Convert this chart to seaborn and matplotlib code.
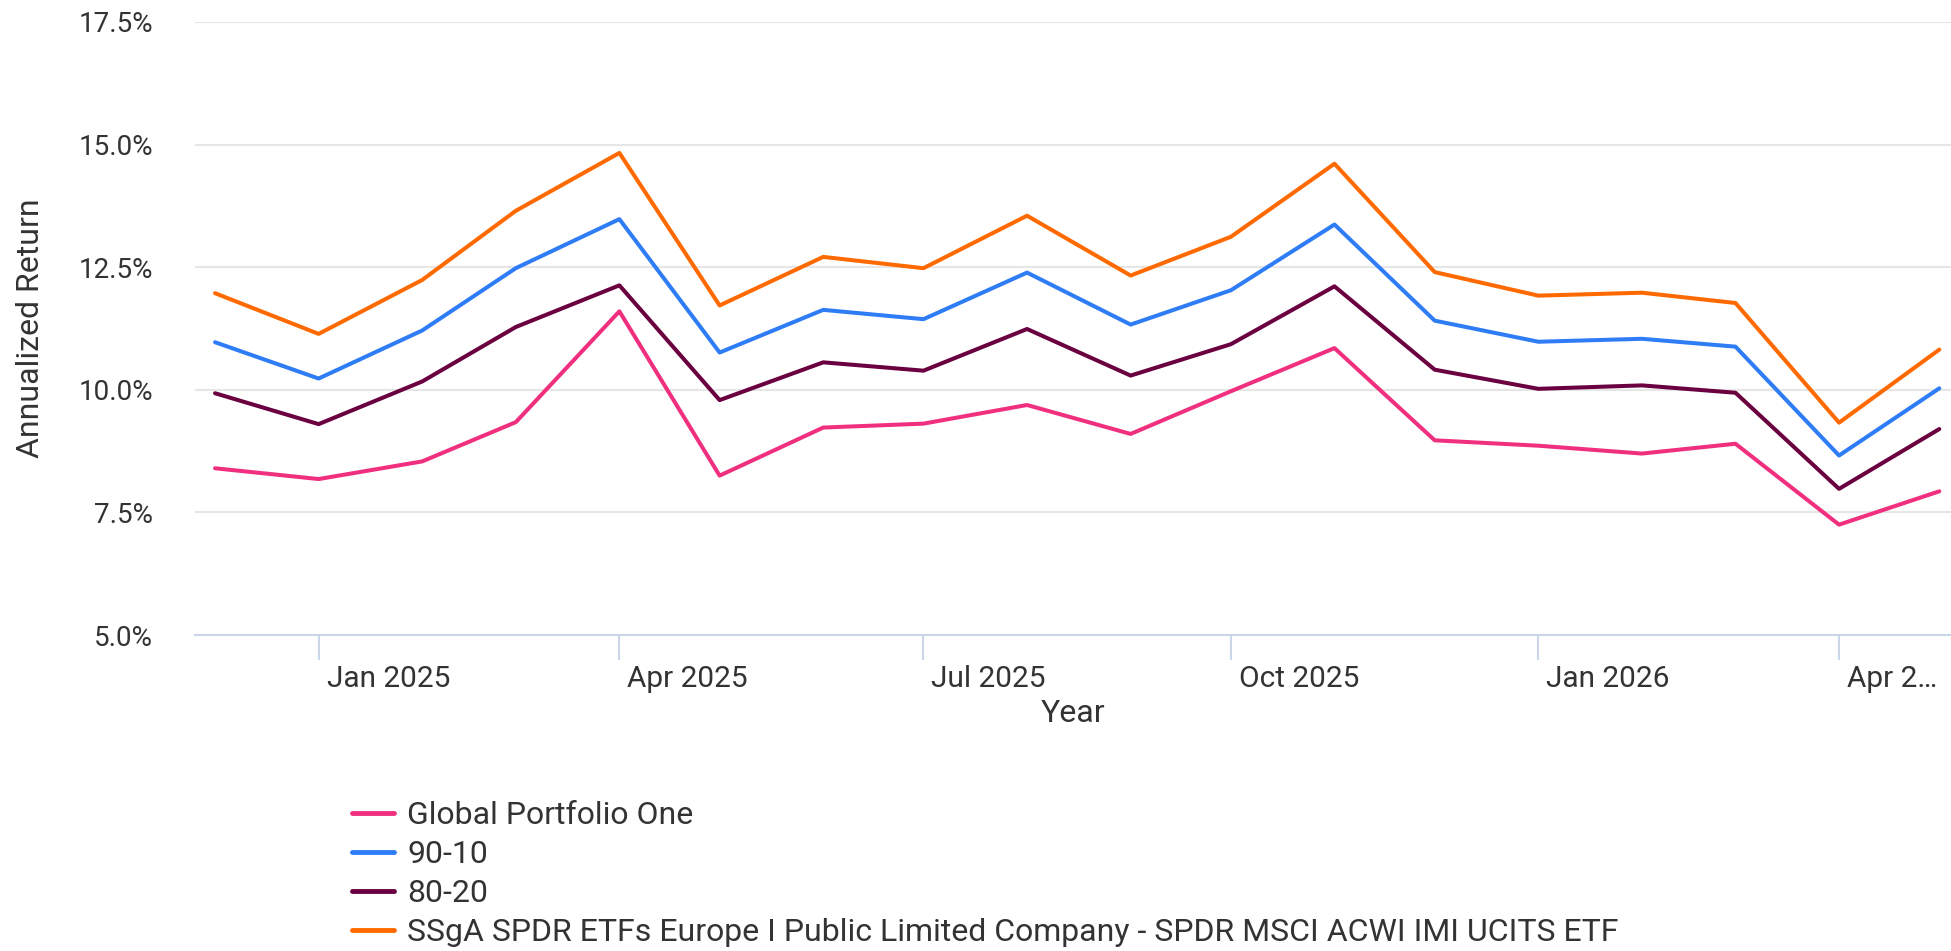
import pandas as pd
import matplotlib
matplotlib.use("Agg")
import matplotlib.pyplot as plt
import matplotlib.transforms as mtrans
from matplotlib.ticker import PercentFormatter
import seaborn as sns

# monthly points (first of month)
dates = ["2024-12-01", "2025-01-01", "2025-02-01", "2025-03-01", "2025-04-01", "2025-05-01",
         "2025-06-01", "2025-07-01", "2025-08-01", "2025-09-01", "2025-10-01", "2025-11-01",
         "2025-12-01", "2026-01-01", "2026-02-01", "2026-03-01", "2026-04-01", "2026-05-01"]

global_one = [8.40, 8.18, 8.54, 9.34, 11.60, 8.25, 9.23, 9.31, 9.69, 9.10, 9.97, 10.85,
              8.97, 8.86, 8.70, 8.90, 7.25, 7.93]
p90_10 = [10.97, 10.23, 11.21, 12.48, 13.48, 10.76, 11.63, 11.44, 12.39, 11.33, 12.03, 13.37,
          11.41, 10.98, 11.04, 10.88, 8.66, 10.03]
p80_20 = [9.93, 9.30, 10.17, 11.28, 12.13, 9.79, 10.56, 10.39, 11.24, 10.29, 10.93, 12.11,
          10.41, 10.02, 10.09, 9.94, 7.98, 9.20]
spdr = [11.97, 11.14, 12.24, 13.65, 14.83, 11.72, 12.71, 12.48, 13.55, 12.33, 13.12, 14.61,
        12.40, 11.92, 11.98, 11.77, 9.33, 10.82]

series_names = ["Global Portfolio One", "90-10", "80-20",
                "SSgA SPDR ETFs Europe I Public Limited Company - SPDR MSCI ACWI IMI UCITS ETF"]
colors = ["#f0307f", "#2f7df6", "#6a0040", "#ff6a00"]

tick_dates = ["2025-01-01", "2025-04-01", "2025-07-01", "2025-10-01", "2026-01-01", "2026-04-01"]
tick_labels = ["Jan 2025", "Apr 2025", "Jul 2025", "Oct 2025", "Jan 2026", "Apr 2…"]

# long-form frame for seaborn
frames = []
for name, vals in zip(series_names, [global_one, p90_10, p80_20, spdr]):
    frames.append(pd.DataFrame({"date": pd.to_datetime(dates), "value": vals, "series": name}))
df = pd.concat(frames, ignore_index=True)

sns.set_style("white")
plt.rcParams["font.family"] = ["Roboto", "DejaVu Sans"]

W, H = 1951, 951
fig = plt.figure(figsize=(W / 100, H / 100), dpi=100)
ax = fig.add_axes([195 / W, 1 - 635 / H, 1 - 195 / W, 613 / H])

sns.lineplot(data=df, x="date", y="value", hue="series", hue_order=series_names,
             palette=colors, linewidth=2.9, ax=ax)

ax.set_xlim(pd.Timestamp("2024-11-25"), pd.Timestamp("2026-05-04 12:00"))
ax.set_ylim(5, 17.5)
ax.set_yticks([5, 7.5, 10, 12.5, 15, 17.5])
ax.yaxis.set_major_formatter(PercentFormatter(xmax=100, decimals=1))
ax.grid(axis="y", color="#e6e6e6", linewidth=1.5)
ax.set_axisbelow(True)

for s in ["top", "right", "left"]:
    ax.spines[s].set_visible(False)
ax.spines["bottom"].set_color("#ccd6eb")
ax.spines["bottom"].set_linewidth(1.5)

ax.set_xticks(pd.to_datetime(tick_dates))
ax.set_xticklabels(tick_labels, ha="left")
ax.tick_params(axis="x", length=18, width=1.5, color="#ccd6eb", pad=3.5,
               labelsize=21.5, labelcolor="#333333", bottom=True)
ax.tick_params(axis="y", length=0, pad=30, labelsize=20, labelcolor="#333333")

# labels sit just right of their tick
offset = mtrans.ScaledTranslation(8 / 100, 0, fig.dpi_scale_trans)
for tick in ax.xaxis.get_major_ticks():
    tick.label1.set_transform(tick.label1.get_transform() + offset)

ax.set_xlabel("Year", fontsize=23, color="#333333", va="top")
ax.xaxis.set_label_coords(0.5, -0.104)
ax.set_ylabel("Annualized Return", fontsize=23, color="#333333")
ax.yaxis.set_label_coords(-0.0856, 0.5)

handles, labels = ax.get_legend_handles_labels()
ax.get_legend().remove()
leg = fig.legend(handles, labels, loc="upper left", bbox_to_anchor=(352 / W, 1 - 801 / H),
                 frameon=False, fontsize=23, handlelength=1.3, handletextpad=0.43,
                 labelspacing=0.31, borderpad=0, borderaxespad=0)
for t in leg.get_texts():
    t.set_color("#333333")
for h in leg.get_lines():
    h.set_linewidth(3.5)

fig.savefig("out.png", dpi=100)
